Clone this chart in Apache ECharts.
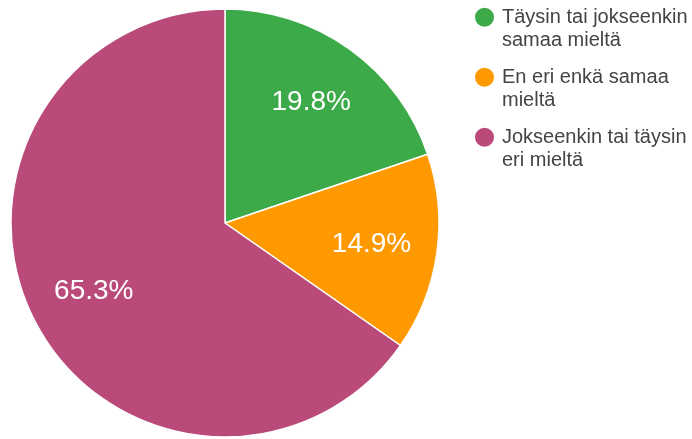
<!DOCTYPE html>
<html>
<head>
<meta charset="utf-8">
<script src="https://cdn.jsdelivr.net/npm/echarts@6/dist/echarts.min.js"></script>
<style>
html,body{margin:0;padding:0;background:#fff;}
#chart{width:692px;height:439px;}
</style>
</head>
<body>
<div id="chart"></div>
<script>
var categories = ['Täysin tai jokseenkin samaa mieltä', 'En eri enkä samaa mieltä', 'Jokseenkin tai täysin eri mieltä'];
var legendLines = [['Täysin tai jokseenkin', 'samaa mieltä'], ['En eri enkä samaa', 'mieltä'], ['Jokseenkin tai täysin', 'eri mieltä']];
var values = [19.8, 14.9, 65.3];
var colors = ['#3daa4a', '#ff9900', '#b94a79'];

var FONT = "Arial, 'Liberation Sans', sans-serif";
var data = categories.map(function (c, i) {
  return { name: c, value: values[i], itemStyle: { color: colors[i] } };
});
var labelData = categories.map(function (c, i) {
  return { name: c, value: values[i] };
});

var chart = echarts.init(document.getElementById('chart'), null, { renderer: 'canvas' });
chart.setOption({
  animation: false,
  legend: {
    orient: 'vertical',
    left: 473,
    top: -18,
    padding: 0,
    icon: 'circle',
    itemWidth: 21,
    itemHeight: 21,
    itemGap: -10.5,
    selectedMode: false,
    data: categories,
    formatter: function (name) {
      var i = categories.indexOf(name);
      return '\n' + legendLines[i].join('\n');
    },
    textStyle: {
      fontFamily: FONT,
      fontSize: 20,
      color: '#444',
      lineHeight: 23.5,
      padding: [0, 0, 0, 2]
    }
  },
  series: [
    {
      type: 'pie',
      center: [225, 223],
      radius: [0, 214],
      startAngle: 90,
      clockwise: true,
      silent: true,
      label: { show: false },
      labelLine: { show: false },
      itemStyle: { borderColor: '#fff', borderWidth: 1.5 },
      emphasis: { disabled: true },
      data: data
    },
    {
      type: 'pie',
      center: [225, 223],
      radius: [76, 214],
      startAngle: 90,
      clockwise: true,
      silent: true,
      legendHoverLink: false,
      itemStyle: { color: 'rgba(0,0,0,0)', borderWidth: 0 },
      label: {
        show: true,
        position: 'inside',
        formatter: '{c}%',
        color: '#fff',
        fontFamily: FONT,
        fontSize: 28
      },
      labelLine: { show: false },
      emphasis: { disabled: true },
      data: labelData
    }
  ]
});
</script>
</body>
</html>
